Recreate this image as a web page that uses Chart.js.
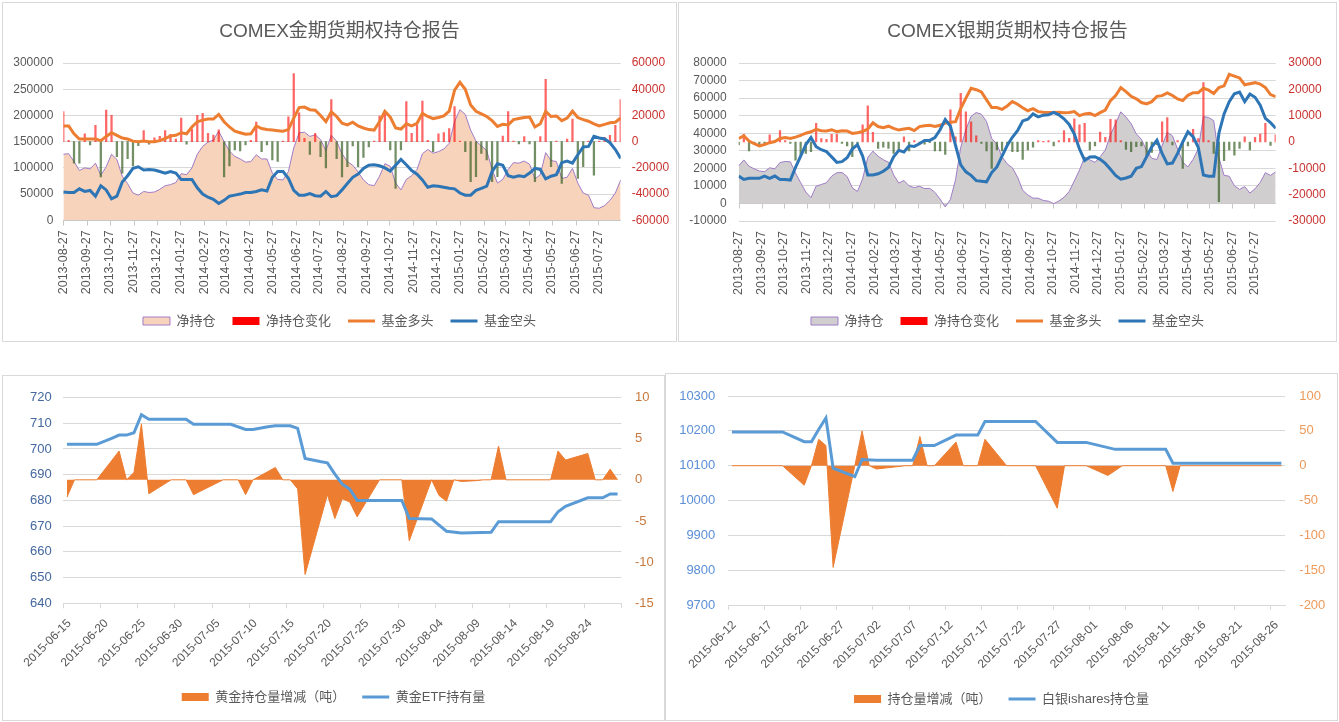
<!DOCTYPE html>
<html lang="zh-CN">
<head>
<meta charset="utf-8">
<title>COMEX 持仓 / ETF 持有量</title>
<script src="https://cdn.jsdelivr.net/npm/chart.js@4.4.1/dist/chart.umd.min.js"></script>
<style>
  html, body { margin: 0; padding: 0; background: #fff; }
  body { width: 1339px; height: 722px; position: relative; overflow: hidden; }
  .panel { position: absolute; box-sizing: border-box; border: 1px solid #d9d9d9; background: #fff; }
  .panel canvas { display: block; }
</style>
</head>
<body>
<div class="panel" style="left:2px;top:2px;width:675px;height:340px"><canvas id="goldCot" width="673" height="338"></canvas></div>
<div class="panel" style="left:678px;top:2px;width:659px;height:340px"><canvas id="silverCot" width="657" height="338"></canvas></div>
<div class="panel" style="left:2px;top:375px;width:663px;height:346px"><canvas id="goldEtf" width="661" height="344"></canvas></div>
<div class="panel" style="left:665px;top:373px;width:673px;height:348px"><canvas id="silverEtf" width="671" height="346"></canvas></div>
<script>
Chart.defaults.font.family = '"Liberation Sans", "Noto Sans CJK SC", sans-serif';
Chart.defaults.color = '#595959';
Chart.defaults.animation = false;
Chart.defaults.events = [];
Chart.defaults.plugins.tooltip.enabled = false;

// ---------- COMEX 周度持仓 (每周二一个点, 从 2013-08-27 开始) ----------
const cotStart = '2013-08-27';
const cotEnd = '2015-08-25';
const cotTickLabels = ['2013-08-27','2013-09-27','2013-10-27','2013-11-27','2013-12-27','2014-01-27',
  '2014-02-27','2014-03-27','2014-04-27','2014-05-27','2014-06-27','2014-07-27','2014-08-27','2014-09-27',
  '2014-10-27','2014-11-27','2014-12-27','2015-01-27','2015-02-27','2015-03-27','2015-04-27','2015-05-27',
  '2015-06-27','2015-07-27'];

// 黄金
const goldNet = [126000,127000,112000,95000,100000,98000,109000,86000,102000,126000,
  116000,84000,70000,52000,48000,55000,53000,54000,59000,66000,
  68000,72000,89000,87000,100000,126000,141000,149000,153000,170000,
  150000,132000,122000,117000,111000,112000,125000,117000,117000,90000,
  78000,77000,93000,138000,167000,168000,160000,163000,154000,133000,
  162000,151000,127000,112000,105000,92000,77000,68000,66000,84000,
  108000,103000,71000,58000,78000,85000,97000,127000,135000,128000,
  131000,136000,147000,188000,211000,202000,172000,151000,142000,133000,
  97000,71000,78000,97000,110000,109000,113000,107000,79000,87000,
  129000,114000,112000,80000,82000,99000,71000,52000,48000,24000,
  23000,28000,38000,52000,77000];
const goldNetChg = [23000,1000,-16500,-16500,6000,-2500,12500,-27000,24000,20000,
  -11500,-24000,-13000,-18600,-3000,8400,-2000,3000,4000,8400,
  5600,2000,18000,-2000,9400,20000,21600,6400,5000,9000,
  -27000,-18600,-6400,-7000,-2500,1000,15000,-7600,-2500,-14000,
  -15000,500,19000,52000,22000,2500,-9700,6400,-11500,-20000,
  32000,-13000,-27000,-19000,-3300,-19000,-12000,-4000,500,19600,
  23000,-6400,-35700,-6400,30600,6400,12700,31000,1000,-7600,
  5900,6900,10000,26800,500,-7600,-30600,-26800,-9000,-14000,
  -30600,-26800,4300,23000,500,-1800,3800,-1800,-30600,3800,
  47600,-19000,500,-31800,2000,17300,-28000,-19000,500,-25500,
  500,3300,4800,12500,32000];
const goldLong = [180000,180000,165000,155000,155000,155000,155000,152000,160000,167000,
  162000,157000,155000,151000,150000,151000,150000,150000,152000,156000,
  161000,162000,167000,165000,178000,188000,191000,193000,193000,202000,
  188000,178000,170000,167000,164000,165000,180000,175000,173000,172000,
  171000,170000,173000,195000,215000,216000,211000,210000,200000,188000,
  207000,198000,185000,182000,187000,180000,176000,173000,172000,188000,
  208000,197000,176000,174000,184000,180000,185000,204000,198000,194000,
  196000,199000,208000,248000,263000,250000,220000,208000,203000,198000,
  190000,179000,183000,182000,192000,194000,196000,197000,178000,184000,
  208000,198000,199000,190000,195000,208000,196000,192000,189000,184000,
  180000,183000,186000,187000,195000];
const goldShort = [54000,53000,53000,60000,55000,57000,46000,66000,58000,41000,
  46000,73000,85000,99000,102000,96000,97000,96000,93000,90000,
  93000,90000,78000,78000,78000,62000,50000,44000,40000,32000,
  38000,46000,48000,50000,53000,53000,55000,58000,56000,82000,
  93000,93000,80000,57000,48000,48000,51000,47000,46000,55000,
  45000,47000,58000,70000,82000,88000,99000,105000,106000,104000,
  100000,94000,105000,116000,106000,95000,88000,77000,63000,66000,
  65000,63000,61000,60000,52000,48000,48000,57000,61000,65000,
  93000,108000,105000,85000,82000,85000,83000,90000,99000,97000,
  79000,84000,87000,110000,113000,109000,125000,140000,141000,160000,
  157000,155000,148000,135000,118000];

// 白银
const silverNet = [21400,24800,21200,19700,18500,18100,20300,19700,23300,23900,
  23700,17300,11800,6500,3300,9900,10800,11800,15500,17500,
  17600,15300,8900,6800,14000,26200,29800,26900,24900,23500,
  16300,11600,13100,10000,9000,9800,8500,8600,6300,2500,
  -2000,2300,13600,32000,42000,49600,51800,50800,46700,37000,
  33800,26600,22500,20300,15000,7500,4800,3000,3000,1700,
  1300,-100,1400,3500,6800,12800,19000,26500,24800,23400,
  26600,30400,39100,45500,52200,49200,45500,39600,36500,30100,
  25700,25000,32900,40500,38500,31000,23600,20800,25100,31100,
  49400,49000,47100,26000,16000,15500,10000,8000,9600,5900,
  8300,12000,17500,16000,18000];
const silverNetChg = [-1100,2900,-3400,-300,-1100,-500,2700,300,4300,500,
  -500,-6900,-5000,-4300,-3700,7100,1300,1000,2900,2900,
  -500,-1500,-5600,-800,6500,13700,3700,-2400,-2000,-2400,
  -4300,-3000,2000,-3400,500,-800,-800,-300,-3400,-3400,
  -4700,12200,2000,18500,11500,7700,2300,-500,-3400,-10000,
  -3000,-3400,-1100,-3700,-3700,-6600,-3000,-2000,500,300,
  500,-1500,500,4300,1400,8800,6500,7100,-3000,-1500,
  3800,1800,8600,8400,500,-2800,-3700,-1800,-1500,-5600,
  -4000,-1000,7700,9300,-1100,500,-10000,-1500,4800,1300,
  22600,500,-4300,-22700,-7100,-3000,-5000,-2400,2000,-3000,
  1800,3000,7100,-1300,2700];
const silverLong = [37000,38500,35500,34000,32800,33600,34600,35300,37000,37600,
  37000,37800,38800,40000,40800,42200,41400,41300,42000,40900,
  41400,41300,39900,40300,41000,42400,46000,43800,43200,44000,
  42800,41800,42400,42800,41500,43800,44300,44500,43800,44500,
  45800,46300,46600,54000,60000,65600,64800,63500,59000,54600,
  54600,53600,55500,58000,56500,54500,52800,54000,52300,52000,
  51800,51800,51900,51700,51800,52300,50000,51000,51300,50000,
  51700,53200,58600,61500,66000,63700,61000,59600,57500,56700,
  58000,61000,61400,63000,61500,59500,58600,61600,63100,63100,
  65600,64500,62600,66000,67000,73500,72500,71500,67600,68200,
  68800,68000,66000,62000,60800];
const silverShort = [15600,13700,14300,14300,14300,15500,14300,15600,13700,13700,
  13300,20500,27000,33500,37500,32300,30600,29500,26500,23400,
  23800,26000,31000,33500,27000,16200,16200,16900,18300,20500,
  26500,30200,29300,32800,32500,34000,35800,35900,37500,42000,
  47800,44000,33000,22000,18000,16000,13000,12700,12300,17600,
  20800,27000,33000,37700,41500,47000,48000,51000,49300,50300,
  50500,51900,50500,48200,45000,39500,31000,24500,26500,26600,
  25100,22800,19500,16000,13800,14500,15500,20000,21000,26600,
  32300,36000,28500,22500,23000,28500,35000,40800,38000,32000,
  16200,15500,15500,40000,51000,58000,62500,63500,58000,62300,
  60500,56000,48500,46000,42800];

// ---------- 黄金 ETF (日度) ----------
const goldEtfStart = '2015-06-15';
const goldEtfEnd = '2015-08-29';
const goldEtfTickLabels = ['2015-06-15','2015-06-20','2015-06-25','2015-06-30','2015-07-05','2015-07-10',
  '2015-07-15','2015-07-20','2015-07-25','2015-07-30','2015-08-04','2015-08-09','2015-08-14','2015-08-19','2015-08-24'];
const goldHoldDates = ['2015-06-15','2015-06-17','2015-06-19','2015-06-21','2015-06-22','2015-06-23','2015-06-24',
  '2015-06-25','2015-06-26','2015-06-29','2015-07-01','2015-07-02','2015-07-07','2015-07-09','2015-07-10',
  '2015-07-12','2015-07-13','2015-07-15','2015-07-16','2015-07-17','2015-07-19','2015-07-20','2015-07-21',
  '2015-07-22','2015-07-23','2015-07-24','2015-07-30','2015-07-31','2015-08-03','2015-08-05','2015-08-07',
  '2015-08-11','2015-08-12','2015-08-19','2015-08-20','2015-08-21','2015-08-24','2015-08-26','2015-08-27','2015-08-28'];
const goldHold = [701.8,701.8,701.8,704.1,705.4,705.4,706.3,713.3,711.5,711.5,711.5,709.6,709.6,707.6,707.6,
  708.6,709.0,709.0,708.0,696.3,695.1,694.6,690.2,686.3,684.4,680.0,680.0,673.0,672.8,668.0,667.3,
  667.6,671.7,671.7,675.6,677.7,681.0,681.0,682.5,682.5];
const goldChgDates = ['2015-06-15','2015-06-16','2015-06-19','2015-06-22','2015-06-23','2015-06-24','2015-06-25',
  '2015-06-26','2015-06-29','2015-07-01','2015-07-02','2015-07-06','2015-07-08','2015-07-09','2015-07-10',
  '2015-07-13','2015-07-14','2015-07-15','2015-07-16','2015-07-17','2015-07-20','2015-07-21','2015-07-22',
  '2015-07-23','2015-07-24','2015-07-27','2015-07-30','2015-07-31','2015-08-03','2015-08-04','2015-08-05',
  '2015-08-06','2015-08-07','2015-08-09','2015-08-10','2015-08-11','2015-08-12','2015-08-13','2015-08-19',
  '2015-08-20','2015-08-21','2015-08-24','2015-08-25','2015-08-26','2015-08-27','2015-08-28'];
const goldChg = [-2.1,0,0,3.5,0,0.9,6.8,-1.7,0,0,-1.8,0,0,-1.8,0,1.5,0,0,-1.1,-11.5,-1.8,-4.7,-2.3,
  -2.7,-4.5,0,0,-7.4,0,-1.9,-2.6,0,-0.2,-0.1,0,0,4.1,0,0,3.5,2.4,3.2,0,0,1.3,0];

// ---------- 白银 iShares (日度) ----------
const silverEtfStart = '2015-06-12';
const silverEtfEnd = '2015-08-28';
const silverEtfTickLabels = ['2015-06-12','2015-06-17','2015-06-22','2015-06-27','2015-07-02','2015-07-07',
  '2015-07-12','2015-07-17','2015-07-22','2015-07-27','2015-08-01','2015-08-06','2015-08-11','2015-08-16',
  '2015-08-21','2015-08-26'];
const silverHoldDates = ['2015-06-12','2015-06-15','2015-06-19','2015-06-22','2015-06-23','2015-06-24','2015-06-25',
  '2015-06-26','2015-06-29','2015-06-30','2015-07-02','2015-07-07','2015-07-08','2015-07-10','2015-07-13',
  '2015-07-16','2015-07-17','2015-07-24','2015-07-27','2015-07-31','2015-08-04','2015-08-11','2015-08-12','2015-08-27'];
const silverHold = [10197,10197,10197,10169,10169,10204,10237,10093,10069,10118,10116,10116,10158,10158,10188,
  10188,10227,10227,10167,10167,10147,10147,10107,10107];
const silverChgDates = ['2015-06-12','2015-06-19','2015-06-22','2015-06-23','2015-06-24','2015-06-25','2015-06-26',
  '2015-06-29','2015-06-30','2015-07-01','2015-07-02','2015-07-06','2015-07-07','2015-07-08','2015-07-09',
  '2015-07-10','2015-07-13','2015-07-14','2015-07-16','2015-07-17','2015-07-20','2015-07-24','2015-07-27',
  '2015-07-28','2015-07-31','2015-08-03','2015-08-05','2015-08-11','2015-08-12','2015-08-13','2015-08-27'];
const silverChg = [0,0,-28,0,38,29,-146,0,50,0,-4.7,0,0,42,0,0,34,0,0,38,0,0,-61,0,0,-14,0,0,-37,0,0];

// ---------- helpers ----------
const DAY = 86400000;
function dayOf(s, base) { return Math.round((Date.parse(s) - Date.parse(base)) / DAY); }
function weekly(values) { return values.map((v, i) => ({ x: i * 7, y: v })); }
function daily(dates, values, base) { return dates.map((d, i) => ({ x: dayOf(d, base) + 0.5, y: values[i] })); }

const RED = 'rgba(255,0,0,0.6)';
const GREEN = 'rgba(56,96,36,0.7)';

function legendItems(chart) {
  return chart.data.datasets.map((ds, i) => ({
    text: ds.label,
    datasetIndex: i,
    pointStyle: ds.legendShape,
    fillStyle: ds.legendFill || 'rgba(0,0,0,0)',
    strokeStyle: ds.legendStroke || 'rgba(0,0,0,0)',
    lineWidth: ds.legendWidth || 0,
    fontColor: '#595959',
    hidden: false
  }));
}

// x 轴刻度线画在主轴 0 值处
const zeroAxis = {
  id: 'zeroAxis',
  beforeDatasetsDraw(chart) {
    const { ctx, chartArea, scales } = chart;
    const y0 = Math.round(scales.yL.getPixelForValue(0)) + 0.5;
    ctx.save();
    ctx.strokeStyle = '#c8c8c8';
    ctx.lineWidth = 1;
    ctx.beginPath();
    ctx.moveTo(chartArea.left, y0);
    ctx.lineTo(chartArea.right, y0);
    scales.x.ticks.forEach(t => {
      const px = Math.round(scales.x.getPixelForValue(t.value)) + 0.5;
      ctx.moveTo(px, y0);
      ctx.lineTo(px, y0 + 5);
    });
    ctx.stroke();
    ctx.restore();
  }
};

// 图例: 高度 = 13 + padding + 10
const LEGEND_PAD = 17;

function cotChart(id, c) {
  const tickDays = cotTickLabels.map(s => dayOf(s, cotStart));
  return new Chart(document.getElementById(id), {
    type: 'line',
    data: {
      datasets: [
        { label: '净持仓', data: weekly(c.net), yAxisID: 'yL', fill: 'origin', backgroundColor: c.netFill,
          borderColor: '#a07cc8', borderWidth: 1, pointRadius: 0, order: 4,
          legendShape: 'rect', legendFill: c.netFill, legendStroke: '#a07cc8', legendWidth: 1 },
        { type: 'bar', label: '净持仓变化', data: weekly(c.chg), yAxisID: 'yR', barThickness: 1.6, grouped: false,
          backgroundColor: ctx => (ctx.raw && ctx.raw.y < 0) ? GREEN : RED, order: 3,
          legendShape: 'rect', legendFill: '#ff0000' },
        { label: '基金多头', data: weekly(c.long), yAxisID: 'yL', fill: false, borderColor: '#ED7D31',
          borderWidth: 3, pointRadius: 0, order: 2, legendShape: 'line', legendStroke: '#ED7D31', legendWidth: 3 },
        { label: '基金空头', data: weekly(c.short), yAxisID: 'yL', fill: false, borderColor: '#2E75B6',
          borderWidth: 3, pointRadius: 0, order: 1, legendShape: 'line', legendStroke: '#2E75B6', legendWidth: 3 }
      ]
    },
    options: {
      responsive: false,
      devicePixelRatio: 1,
      layout: { padding: { top: 0, bottom: 3.5, left: 0, right: 0 } },
      scales: {
        x: {
          type: 'linear', min: 0, max: dayOf(cotEnd, cotStart), offset: false,
          afterBuildTicks: s => { s.ticks = tickDays.map(v => ({ value: v })); },
          afterFit: s => { s.height = c.xh; },
          grid: { display: false, drawTicks: false }, border: { display: false },
          ticks: { autoSkip: false, minRotation: 90, maxRotation: 90, padding: 10, color: '#595959',
            font: { size: 12.5 }, callback: (v, i) => cotTickLabels[i] }
        },
        yL: {
          position: 'left', min: c.yL[0], max: c.yL[1],
          afterFit: s => { s.width = c.leftW; },
          grid: { color: '#d9d9d9', drawTicks: false }, border: { display: false },
          ticks: { autoSkip: false, stepSize: c.yL[2], padding: c.padL, color: '#595959', font: { size: 12 },
            callback: v => String(v) }
        },
        yR: {
          position: 'right', min: c.yR[0], max: c.yR[1],
          afterFit: s => { s.width = c.rightW; },
          grid: { display: false, drawTicks: false }, border: { display: false },
          ticks: { autoSkip: false, stepSize: c.yR[2], padding: c.padR, color: '#c8322f', font: { size: 12 },
            callback: v => String(v) }
        }
      },
      plugins: {
        title: { display: true, text: c.title, color: '#595959', font: { size: 19, weight: 'normal' },
          padding: { top: 17.6, bottom: 19.6 } },
        legend: { position: 'bottom',
          labels: { usePointStyle: true, pointStyleWidth: 27, boxHeight: 8, padding: LEGEND_PAD, color: '#595959',
            font: { size: 13 }, generateLabels: legendItems } }
      }
    },
    plugins: [zeroAxis]
  });
}

function etfChart(id, c) {
  const ticks = c.tickLabels.map(s => ({ value: dayOf(s, c.start), label: s }));
  const last = dayOf(c.end, c.start);
  if (c.endTick) ticks.push({ value: last, label: '' });
  return new Chart(document.getElementById(id), {
    type: 'line',
    data: {
      datasets: [
        { label: c.chgLabel, data: daily(c.chgDates, c.chg, c.start), yAxisID: 'yR', fill: 'origin',
          backgroundColor: '#ED7D31', borderColor: '#ED7D31', borderWidth: 1, pointRadius: 0, order: 2,
          legendShape: 'rect', legendFill: '#ED7D31' },
        { label: c.holdLabel, data: daily(c.holdDates, c.hold, c.start), yAxisID: 'yL', fill: false,
          borderColor: '#5B9BD5', borderWidth: 3, pointRadius: 0, order: 1,
          legendShape: 'line', legendStroke: '#5B9BD5', legendWidth: 3 }
      ]
    },
    options: {
      responsive: false,
      devicePixelRatio: 1,
      layout: { padding: { top: c.top, bottom: c.bottom, left: 0, right: 0 } },
      scales: {
        x: {
          type: 'linear', min: 0, max: last, offset: false,
          afterBuildTicks: s => { s.ticks = ticks.map(t => ({ value: t.value })); },
          afterFit: s => { s.height = c.xh; },
          grid: { drawOnChartArea: false, drawTicks: true, tickLength: 5, color: '#d9d9d9' },
          border: { display: true, color: '#d9d9d9' },
          ticks: { autoSkip: false, minRotation: 45, maxRotation: 45, padding: 8, labelOffset: 6, color: '#595959',
            font: { size: 12 }, callback: (v, i) => ticks[i].label }
        },
        yL: {
          position: 'left', min: c.yL[0], max: c.yL[1],
          afterFit: s => { s.width = c.leftW; },
          grid: { color: '#d9d9d9', drawTicks: false }, border: { display: false },
          ticks: { autoSkip: false, stepSize: c.yL[2], padding: c.padL, color: c.colL, font: { size: 13 },
            callback: v => String(v) }
        },
        yR: {
          position: 'right', min: c.yR[0], max: c.yR[1],
          afterFit: s => { s.width = c.rightW; },
          grid: { display: false, drawTicks: false }, border: { display: false },
          ticks: { autoSkip: false, stepSize: c.yR[2], padding: c.padR, color: c.colR, font: { size: 13 },
            callback: v => String(v) }
        }
      },
      plugins: {
        title: { display: false },
        legend: { position: 'bottom',
          labels: { usePointStyle: true, pointStyleWidth: 27, boxHeight: 8, padding: LEGEND_PAD, color: '#595959',
            font: { size: 13 }, generateLabels: legendItems } }
      }
    }
  });
}

cotChart('goldCot', {
  title: 'COMEX金期货期权持仓报告', net: goldNet, chg: goldNetChg, long: goldLong, short: goldShort,
  netFill: '#f8d3bb', yL: [0, 300000, 50000], yR: [-60000, 60000, 20000],
  leftW: 60.3, rightW: 55.3, padL: 10, padR: 11, xh: 77.2
});

cotChart('silverCot', {
  title: 'COMEX银期货期权持仓报告', net: silverNet, chg: silverNetChg, long: silverLong, short: silverShort,
  netFill: '#d0cece', yL: [-10000, 80000, 10000], yR: [-30000, 30000, 10000],
  leftW: 59.7, rightW: 60.3, padL: 12, padR: 12.6, xh: 76.5
});

etfChart('goldEtf', {
  start: goldEtfStart, end: goldEtfEnd, tickLabels: goldEtfTickLabels, endTick: true,
  chgLabel: '黄金持仓量增减（吨）', chgDates: goldChgDates, chg: goldChg,
  holdLabel: '黄金ETF持有量', holdDates: goldHoldDates, hold: goldHold,
  yL: [640, 720, 10], yR: [-15, 10, 5], colL: '#44689f', colR: '#c8783c',
  leftW: 60.3, rightW: 42.7, padL: 11.6, padR: 13.7, top: 17.3, bottom: 6.5, xh: 70.2
});

etfChart('silverEtf', {
  start: silverEtfStart, end: silverEtfEnd, tickLabels: silverEtfTickLabels, endTick: false,
  chgLabel: '持仓量增减（吨）', chgDates: silverChgDates, chg: silverChg,
  holdLabel: '白银ishares持仓量', holdDates: silverHoldDates, hold: silverHold,
  yL: [9700, 10300, 100], yR: [-200, 100, 50], colL: '#5b8fd6', colR: '#ee9a5a',
  leftW: 62.3, rightW: 52, padL: 13, padR: 14.3, top: 17, bottom: 4.5, xh: 70.5
});
</script>
</body>
</html>
